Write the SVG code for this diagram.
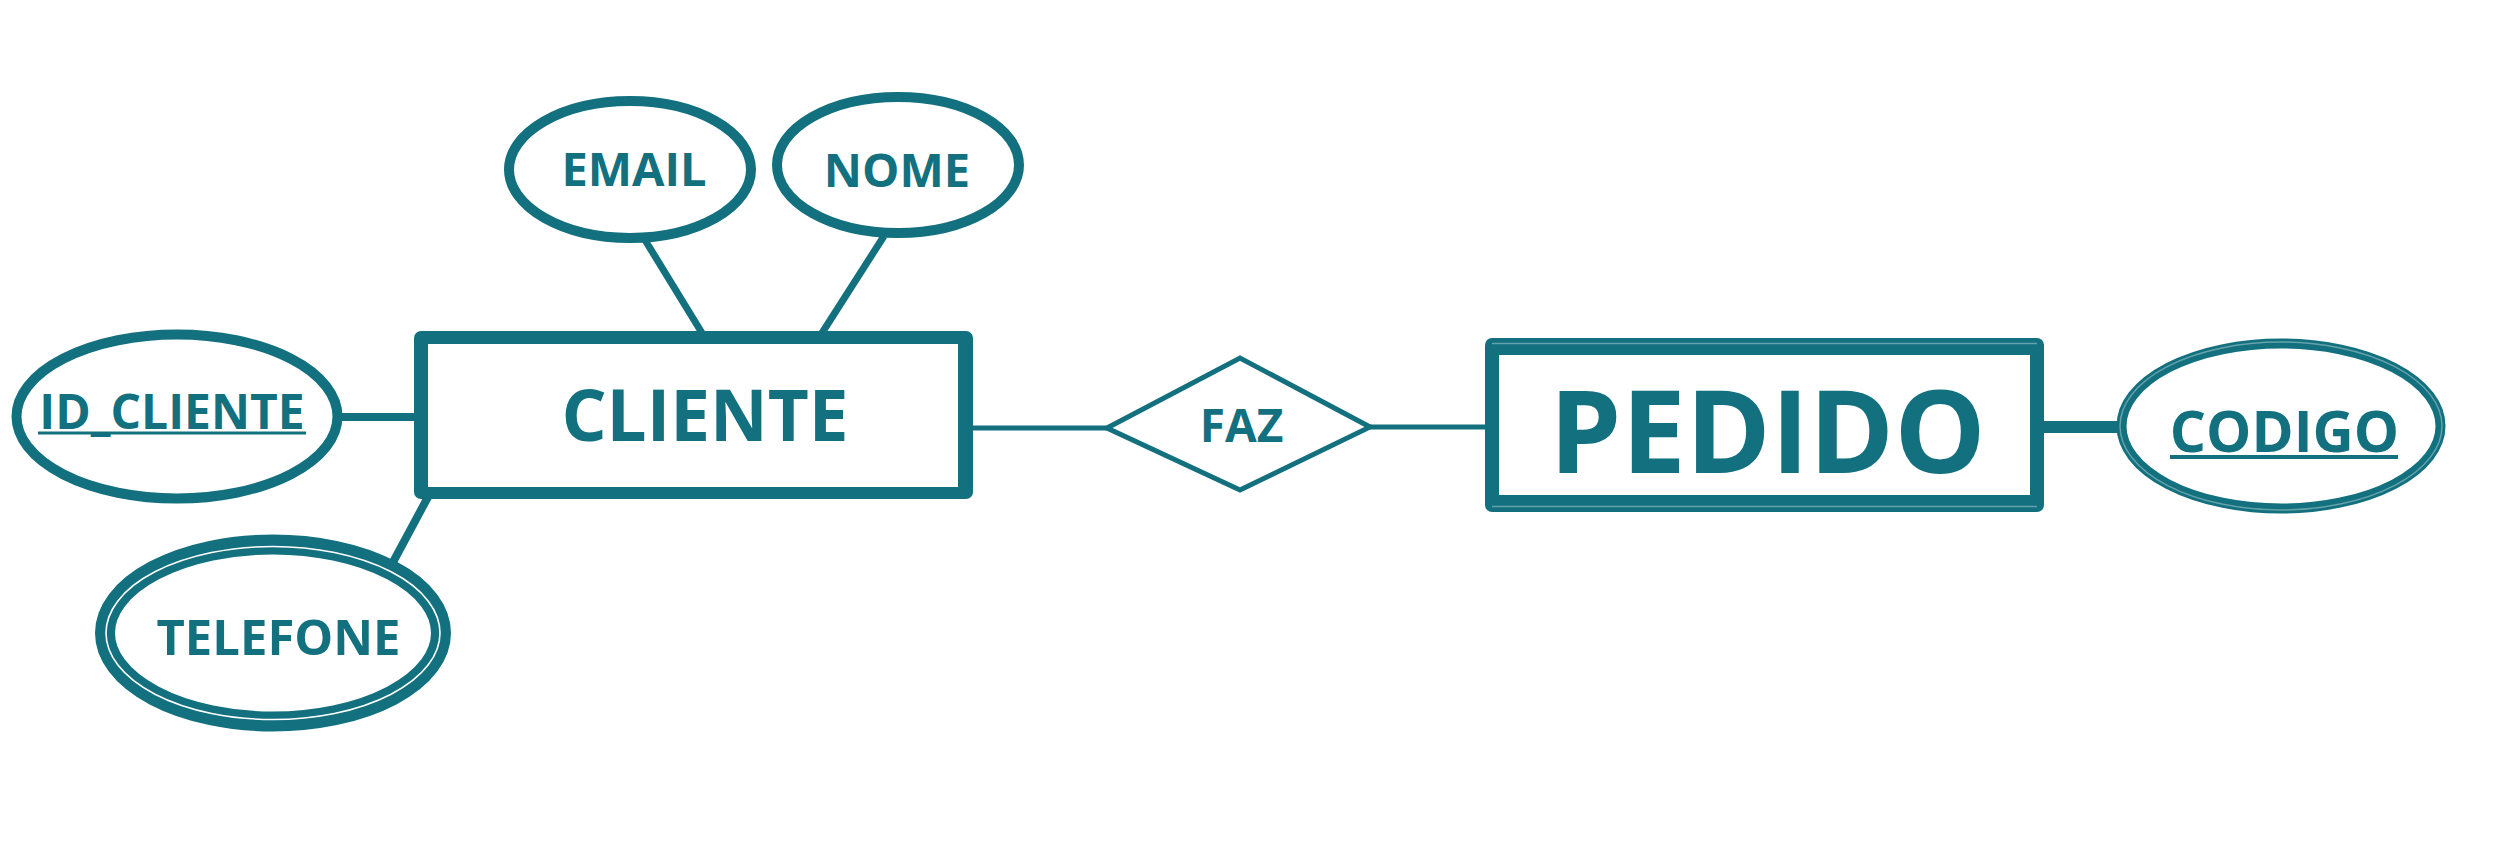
<svg xmlns="http://www.w3.org/2000/svg" width="2493" height="852" viewBox="0 0 2493 852">
  <style>
    .ink { fill: #13707e; }
    .attr { fill: #ffffff; stroke: #13707e; stroke-width: 10; }
    .link { stroke: #13707e; stroke-linecap: butt; fill: none; }
    .label { font-family: "Open Sans", "Liberation Sans", sans-serif; font-weight: 700; fill: #13707e; text-anchor: middle; }
    .ul { stroke: #13707e; }
    .sheen { fill: none; stroke: #ffffff; stroke-opacity: 0.35; stroke-width: 1.5; }
  </style>
  <rect width="2493" height="852" fill="#ffffff"/>

  <!-- relationships between entities and attributes -->
  <g id="connectors">
    <line class="link" x1="342" y1="417" x2="416" y2="417" stroke-width="8"/>
    <line class="link" x1="645" y1="240" x2="702" y2="333" stroke-width="7"/>
    <line class="link" x1="884" y1="236" x2="822" y2="333" stroke-width="7"/>
    <line class="link" x1="428" y1="497" x2="392" y2="564" stroke-width="8"/>
    <line class="link" x1="971" y1="428" x2="1109" y2="428" stroke-width="5"/>
    <line class="link" x1="1368" y1="427" x2="1487" y2="427" stroke-width="5"/>
    <line class="link" x1="2042" y1="427" x2="2118" y2="427" stroke-width="12"/>
  </g>

  <!-- entity CLIENTE -->
  <g id="cliente">
    <rect class="ink" x="414" y="331" width="559" height="168" rx="7"/>
    <rect x="428" y="344" width="530" height="143" fill="#ffffff"/>
    <text class="label" x="705" y="441" font-size="71">CLIENTE</text>
  </g>

  <!-- attribute EMAIL -->
  <g id="email">
    <ellipse class="attr" cx="630" cy="169.5" rx="121" ry="68.5"/>
    <text class="label" x="634" y="186" font-size="47">EMAIL</text>
  </g>

  <!-- attribute NOME -->
  <g id="nome">
    <ellipse class="attr" cx="898" cy="165" rx="121" ry="68"/>
    <text class="label" x="897" y="187" font-size="47">NOME</text>
  </g>

  <!-- key attribute ID_CLIENTE -->
  <g id="id_cliente">
    <ellipse class="attr" cx="177" cy="416.5" rx="160.5" ry="82" stroke-width="9"/>
    <text class="label" x="172" y="429" font-size="48">ID_CLIENTE</text>
    <line class="ul" x1="38" y1="433" x2="306" y2="433" stroke-width="3"/>
  </g>

  <!-- multivalued attribute TELEFONE -->
  <g id="telefone">
    <ellipse cx="273" cy="633" rx="168" ry="88.5" fill="#ffffff" stroke="#13707e" stroke-width="20"/>
    <ellipse cx="273" cy="633" rx="167" ry="86.5" fill="none" stroke="#ffffff" stroke-width="1.6"/>
    <text class="label" x="278.5" y="655" font-size="49">TELEFONE</text>
  </g>

  <!-- relationship FAZ -->
  <g id="faz">
    <polygon points="1107,428 1240,358 1370,427 1240,490" fill="#ffffff" stroke="#13707e" stroke-width="5" stroke-linejoin="miter"/>
    <text class="label" x="1241.5" y="442" font-size="46">FAZ</text>
  </g>

  <!-- entity PEDIDO -->
  <g id="pedido">
    <rect class="ink" x="1485" y="338" width="559" height="174" rx="7"/>
    <rect x="1499" y="355" width="531" height="140" fill="#ffffff"/>
    <line class="sheen" x1="1492" y1="343.5" x2="2037" y2="343.5"/>
    <line class="sheen" x1="1492" y1="506.5" x2="2037" y2="506.5"/>
    <text class="label" x="1767.5" y="473" font-size="115">PEDIDO</text>
  </g>

  <!-- key attribute CODIGO -->
  <g id="codigo">
    <ellipse class="attr" cx="2281" cy="426" rx="159.5" ry="82.5" stroke-width="13"/>
    <ellipse class="sheen" cx="2281" cy="426" rx="161" ry="84"/>
    <text class="label" x="2284.5" y="452" font-size="57">CODIGO</text>
    <line class="ul" x1="2170" y1="457" x2="2398" y2="457" stroke-width="4"/>
  </g>
</svg>
